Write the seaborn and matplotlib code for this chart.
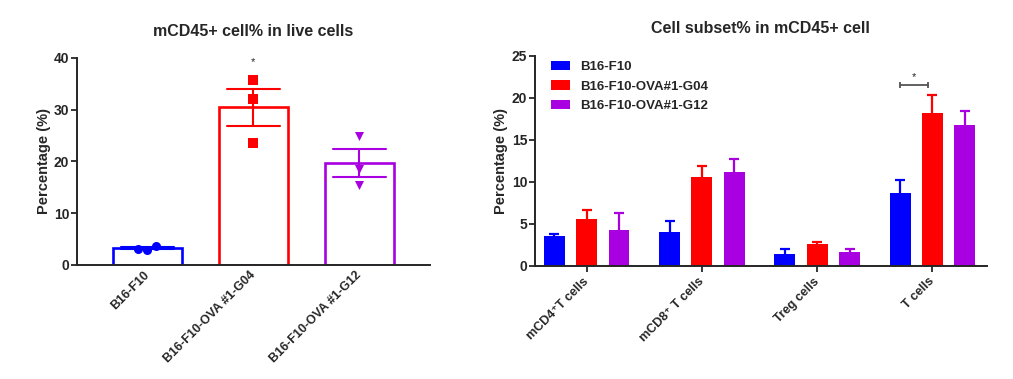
import numpy as np
import pandas as pd
import matplotlib
matplotlib.use("Agg")
import matplotlib.pyplot as plt
import seaborn as sns

# left panel: mCD45+ cell% in live cells (individual mice)
groups = ["B16-F10", "B16-F10-OVA #1-G04", "B16-F10-OVA #1-G12"]
cd45_b16 = [2.9, 3.7, 3.1]
cd45_g04 = [35.7, 32.1, 23.6]
cd45_g12 = [25.0, 18.6, 15.5]

# right panel: cell subsets in mCD45+ cells (mean and SEM)
subsets = ["mCD4\u207aT cells", "mCD8\u207a T cells", "Treg cells", "T cells"]
lines = ["B16-F10", "B16-F10-OVA#1-G04", "B16-F10-OVA#1-G12"]
mean_b16 = [3.5, 4.0, 1.4, 8.7]
mean_g04 = [5.6, 10.5, 2.55, 18.2]
mean_g12 = [4.25, 11.1, 1.6, 16.7]
sem_b16 = [0.25, 1.35, 0.55, 1.55]
sem_g04 = [1.05, 1.35, 0.3, 2.1]
sem_g12 = [2.0, 1.6, 0.4, 1.7]

colors = ["#0000FF", "#FF0000", "#A800E0"]
markers = ["o", "s", "v"]

sns.set_style("ticks")
plt.rcParams["font.family"] = ["Liberation Sans", "DejaVu Sans"]
plt.rcParams["font.weight"] = "bold"
plt.rcParams["axes.labelweight"] = "bold"
plt.rcParams["axes.titleweight"] = "bold"
plt.rcParams["axes.linewidth"] = 1.4

fig = plt.figure(figsize=(10.13, 3.79), dpi=100)
ax1 = fig.add_axes([0.076, 0.301, 0.348, 0.546])
ax2 = fig.add_axes([0.528, 0.299, 0.446, 0.554])


def style_xlabels(ax):
    for lab in ax.get_xticklabels():
        lab.set_rotation(45)
        lab.set_ha("right")
        lab.set_va("center")
        lab.set_rotation_mode("anchor")


# ---- left panel ----
left = pd.DataFrame({
    "group": np.repeat(groups, 3),
    "value": cd45_b16 + cd45_g04 + cd45_g12,
})
for g, c, m in zip(groups, colors, markers):
    sub = left[left["group"] == g]
    sns.barplot(data=sub, x="group", y="value", order=groups, color=c,
                fill=False, linewidth=1.9, width=0.65, errorbar="se",
                capsize=0.5, err_kws={"color": c, "linewidth": 1.5}, ax=ax1)
    sns.swarmplot(data=sub, x="group", y="value", order=groups, color=c,
                  marker=m, size=6.5, ax=ax1, zorder=5)

ax1.set_xlim(-0.665, 2.665)
ax1.set_ylim(0, 40)
ax1.set_yticks([0, 10, 20, 30, 40])
ax1.set_xlabel("")
ax1.set_ylabel("Percentage (%)", fontsize=10.5, labelpad=2)
ax1.set_title("mCD45+ cell% in live cells", fontsize=11.5, pad=16)
ax1.tick_params(axis="y", labelsize=10, length=4, width=1.3, pad=1.5)
ax1.tick_params(axis="x", labelsize=9, length=0, pad=6)
style_xlabels(ax1)
ax1.text(1, 39.2, "*", ha="center", va="center", fontsize=8, fontweight="normal")
sns.despine(ax=ax1)

# ---- right panel ----
right = pd.DataFrame({
    "subset": subsets * 3,
    "line": np.repeat(lines, 4),
    "value": mean_b16 + mean_g04 + mean_g12,
})
sns.barplot(data=right, x="subset", y="value", hue="line", order=subsets,
            hue_order=lines, palette=colors, saturation=1, width=0.84,
            gap=0.35, errorbar=None, linewidth=0, ax=ax2)
# error bars sit behind the bars so only the upper half shows
for cont, err, c in zip(ax2.containers, [sem_b16, sem_g04, sem_g12], colors):
    xs = [p.get_x() + p.get_width() / 2 for p in cont.patches]
    hs = [p.get_height() for p in cont.patches]
    ax2.errorbar(xs, hs, yerr=err, fmt="none", ecolor=c, elinewidth=1.6,
                 capsize=3.6, capthick=1.6, zorder=0)

# significance bracket on T cells (B16-F10 vs G04)
pb = ax2.containers[0].patches[3]
pr = ax2.containers[1].patches[3]
x0 = pb.get_x() + pb.get_width() / 2
x1 = pr.get_x() + pr.get_width() / 2 - 0.04
ax2.plot([x0, x1], [21.5, 21.5], color="#555555", lw=1.3, marker="|",
         markersize=5, markeredgewidth=1.3)
ax2.text((x0 + x1) / 2, 22.4, "*", ha="center", va="center", fontsize=8,
         fontweight="normal")

ax2.set_xlim(-0.45, 3.47)
ax2.set_ylim(0, 25)
ax2.set_yticks([0, 5, 10, 15, 20, 25])
ax2.set_xlabel("")
ax2.set_ylabel("Percentage (%)", fontsize=10.5, labelpad=2.5)
ax2.set_title("Cell subset% in mCD45+ cell", fontsize=11.5, pad=16)
ax2.tick_params(axis="y", labelsize=10, length=4, width=1.3, pad=1.5)
ax2.tick_params(axis="x", labelsize=9, length=4, width=1.3, pad=6)
style_xlabels(ax2)
ax2.legend(loc="upper left", bbox_to_anchor=(0.025, 1.0), frameon=False,
           fontsize=9.5, handlelength=1.4, handleheight=0.7,
           handletextpad=0.8, labelspacing=0.55, borderaxespad=0)
sns.despine(ax=ax2)

fig.savefig("out.png", dpi=100)
